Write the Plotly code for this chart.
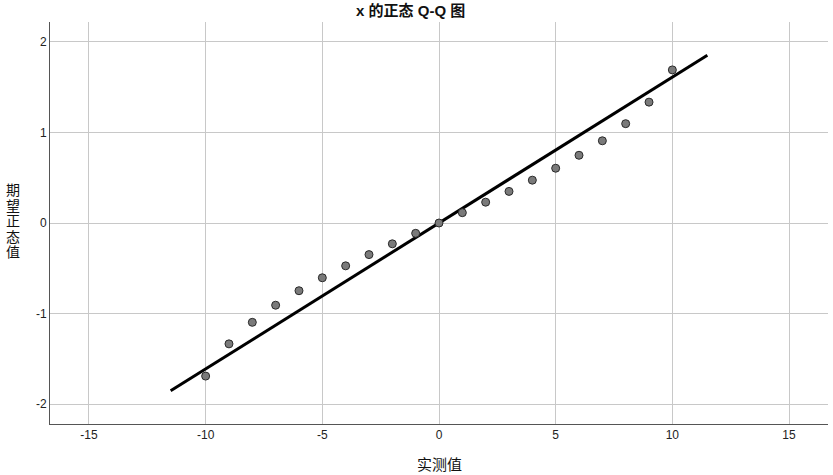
import plotly.graph_objects as go

# observed values
observed = [-10, -9, -8, -7, -6, -5, -4, -3, -2, -1, 0, 1, 2, 3, 4, 5, 6, 7, 8, 9, 10]
# expected normal values
expected = [-1.691, -1.335, -1.097, -0.908, -0.748, -0.605, -0.473, -0.349, -0.230, -0.114, 0.0,
            0.114, 0.230, 0.349, 0.473, 0.605, 0.748, 0.908, 1.097, 1.335, 1.691]
# reference line
line_x = [-11.5, 11.5]
line_y = [-1.853, 1.853]

x_ticks = [-15, -10, -5, 0, 5, 10, 15]
x_labels = ["-15", "-10", "-5", "0", "5", "10", "15"]
y_ticks = [-2, -1, 0, 1, 2]
y_labels = ["-2", "-1", "0", "1", "2"]

y_title_chars = ["期", "望", "正", "态", "值"]
y_title_pos = [0.582, 0.543, 0.505, 0.466, 0.427]
x_title = "实测值"
chart_title = "x 的正态 Q-Q 图"

CJK = "Liberation Sans, Noto Sans CJK SC, sans-serif"

fig = go.Figure()
fig.add_trace(go.Scatter(x=line_x, y=line_y, mode="lines",
                         line=dict(color="black", width=3), showlegend=False, hoverinfo="skip"))
fig.add_trace(go.Scatter(x=observed, y=expected, mode="markers",
                         marker=dict(color="#7a7a7a", size=8, line=dict(color="#2a2a2a", width=1)),
                         showlegend=False))

annotations = [
    dict(text=c, xref="paper", yref="paper", x=-0.0476, y=yp,
         xanchor="center", yanchor="middle", showarrow=False,
         font=dict(family=CJK, size=14, color="#111"))
    for c, yp in zip(y_title_chars, y_title_pos)
]
annotations.append(
    dict(text=x_title, xref="paper", yref="paper", x=0.5, y=-0.100,
         xanchor="center", yanchor="middle", showarrow=False,
         font=dict(family=CJK, size=15, color="#111")))

fig.update_layout(
    width=833, height=475,
    margin=dict(l=50, r=5, t=22, b=51),
    paper_bgcolor="white", plot_bgcolor="white",
    font=dict(family="Liberation Sans, Arial, sans-serif", size=12, color="#222"),
    title=dict(text="<b>" + chart_title + "</b>", x=0.493, xanchor="center", y=0.978, yanchor="middle",
               font=dict(family=CJK, size=15, color="#111")),
    xaxis=dict(range=[-16.67, 16.67], tickvals=x_ticks, ticktext=x_labels, showgrid=True,
               gridcolor="#c8c8c8", gridwidth=1,
               zeroline=False, showline=True, linecolor="#555", linewidth=1, ticks="", ticklen=0,
               tickfont=dict(size=12, color="#222")),
    yaxis=dict(range=[-2.22, 2.22], tickvals=y_ticks, ticktext=y_labels, showgrid=True,
               gridcolor="#c8c8c8", gridwidth=1,
               zeroline=False, showline=True, linecolor="#555", linewidth=1, ticks="", ticklen=0,
               tickfont=dict(size=12, color="#222")),
    annotations=annotations,
)

fig.write_html("out.html", config={"displayModeBar": False},
               post_script="document.body.style.margin='0px';")
